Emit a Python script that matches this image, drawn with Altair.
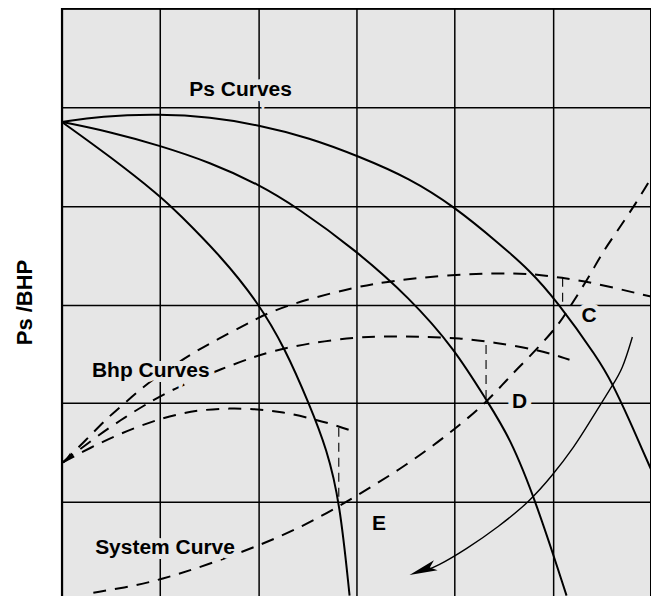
import altair as alt
import pandas as pd

# ---- data (grid units: 6 x 6 grid, y upward) ----
ps_outer_x = [0, 0.39, 1.0, 1.51, 2.0, 2.52, 3.03, 3.54, 4.0, 4.45, 4.76, 5.03, 5.47, 5.6, 5.78, 5.91, 6.0]
ps_outer_y = [4.85, 4.91, 4.93, 4.9, 4.82, 4.69, 4.5, 4.28, 3.99, 3.62, 3.35, 3.05, 2.44, 2.21, 1.83, 1.53, 1.33]

ps_mid_x = [0, 0.49, 1.0, 1.51, 2.0, 2.4, 2.98, 3.54, 4.0, 4.33, 4.56, 4.83, 5.14]
ps_mid_y = [4.85, 4.75, 4.61, 4.44, 4.22, 3.98, 3.56, 3.07, 2.55, 2.02, 1.66, 1.0, 0.05]

ps_inner_x = [0, 0.49, 1.0, 1.18, 1.61, 2.0, 2.27, 2.52, 2.7, 2.83, 2.93]
ps_inner_y = [4.85, 4.5, 4.1, 3.93, 3.5, 3.02, 2.56, 1.99, 1.53, 1.0, 0.05]

bhp_top_x = [0.01, 0.25, 0.45, 0.64, 0.9, 1.35, 1.59, 1.86, 1.99, 2.14, 2.45, 3.0, 3.37, 3.92, 4.53, 4.79, 5.1, 5.37, 6.0]
bhp_top_y = [1.4, 1.63, 1.84, 2.0, 2.23, 2.52, 2.65, 2.79, 2.86, 2.93, 3.04, 3.18, 3.24, 3.3, 3.32, 3.31, 3.27, 3.23, 3.08]

bhp_mid_x = [0.01, 0.35, 0.6, 0.84, 1.16, 1.66, 1.93, 2.15, 2.52, 3.0, 3.37, 3.71, 4.05, 4.38, 4.86, 5.17]
bhp_mid_y = [1.4, 1.66, 1.83, 1.98, 2.16, 2.36, 2.46, 2.53, 2.61, 2.67, 2.68, 2.67, 2.66, 2.62, 2.54, 2.44]

bhp_low_x = [0.01, 0.29, 0.59, 0.9, 1.18, 1.4, 1.71, 2.0, 2.25, 2.52, 2.78, 2.98]
bhp_low_y = [1.4, 1.55, 1.69, 1.81, 1.89, 1.93, 1.95, 1.94, 1.91, 1.85, 1.78, 1.71]

system_x = [0.32, 0.69, 1.0, 1.48, 2.04, 2.45, 2.83, 3.1, 3.44, 3.77, 4.08, 4.32, 4.49, 4.63, 4.86, 5.07, 5.17, 5.37, 5.5, 5.64, 5.85, 6.0]
system_y = [0.08, 0.14, 0.21, 0.36, 0.57, 0.75, 0.96, 1.12, 1.33, 1.56, 1.8, 2.01, 2.19, 2.34, 2.57, 2.81, 2.97, 3.28, 3.52, 3.72, 4.03, 4.28]

arc_x = [5.81, 5.71, 5.6, 5.5, 5.37, 5.22, 4.99, 4.76, 4.45, 4.12, 3.81, 3.69]
arc_y = [2.67, 2.34, 2.17, 2.01, 1.8, 1.56, 1.26, 1.0, 0.75, 0.52, 0.34, 0.3]

drop_x = [5.1, 4.32, 2.82]
drop_y_top = [3.27, 2.59, 1.75]
drop_y_bottom = [2.97, 1.99, 1.0]

big_arrow_x = [3.54]
big_arrow_y = [0.26]
small_arrow_x = [0.01]
small_arrow_y = [1.39]

label_text = ["Ps Curves", "Bhp Curves", "System Curve", "C", "D", "E"]
label_x = [1.82, 0.905, 1.05, 5.37, 4.66, 3.23]
label_y = [5.17, 2.33, 0.53, 2.88, 2.01, 0.78]

y_title = "Ps /BHP"
grid_values = [0, 1, 2, 3, 4, 5, 6]

# ---- tables ----
def curve_rows(name, xs, ys):
    return [dict(curve=name, x=x, y=y, i=i) for i, (x, y) in enumerate(zip(xs, ys))]

ps_df = pd.DataFrame(curve_rows("outer", ps_outer_x, ps_outer_y)
                     + curve_rows("mid", ps_mid_x, ps_mid_y)
                     + curve_rows("inner", ps_inner_x, ps_inner_y))
dash_df = pd.DataFrame(curve_rows("bhp1", bhp_top_x, bhp_top_y)
                       + curve_rows("bhp2", bhp_mid_x, bhp_mid_y)
                       + curve_rows("bhp3", bhp_low_x, bhp_low_y)
                       + curve_rows("system", system_x, system_y))
arc_df = pd.DataFrame(curve_rows("arc", arc_x, arc_y))
drop_df = pd.DataFrame({"x": drop_x, "y": drop_y_top, "y2": drop_y_bottom})
big_df = pd.DataFrame({"x": big_arrow_x, "y": big_arrow_y})
small_df = pd.DataFrame({"x": small_arrow_x, "y": small_arrow_y})
lab_df = pd.DataFrame({"t": label_text, "x": label_x, "y": label_y})

BG = "#e6e6e6"
FONT = "Liberation Sans"

sx = alt.Scale(domain=[0, 6], nice=False, zero=False)
sy = alt.Scale(domain=[0, 6], nice=False, zero=False)
ax_x = alt.Axis(values=grid_values, grid=True, gridColor="black", gridWidth=1.5,
                labels=False, ticks=False, domain=False, title=None)
ax_y = alt.Axis(values=grid_values, grid=True, gridColor="black", gridWidth=1.5,
                labels=False, ticks=False, domain=False, title=y_title,
                titleFont=FONT, titleFontSize=22, titleFontWeight="bold",
                titleColor="black", titleX=-37, titleY=294, titleAngle=270,
                titleAlign="center", titleBaseline="middle")

def X(f="x"):
    return alt.X(f"{f}:Q", scale=sx, axis=ax_x)

def Y(f="y"):
    return alt.Y(f"{f}:Q", scale=sy, axis=ax_y)

ps = alt.Chart(ps_df).mark_line(color="black", strokeWidth=2, clip=True, interpolate="basis").encode(
    x=X(), y=Y(), detail="curve:N", order="x:Q")
dashed = alt.Chart(dash_df).mark_line(color="black", strokeWidth=2, strokeDash=[13, 9], clip=True,
                                      interpolate="basis").encode(
    x=X(), y=Y(), detail="curve:N", order="x:Q")
arc = alt.Chart(arc_df).mark_line(color="black", strokeWidth=1.4, clip=True, interpolate="basis").encode(
    x=X(), y=Y(), order="x:Q")
drops = alt.Chart(drop_df).mark_rule(color="black", strokeWidth=1.1, strokeDash=[9, 6]).encode(
    x=X(), y=Y(), y2="y2:Q")

arrow_path = "M0,0L0.38,2L0,1.55L-0.38,2Z"
big_arrow = alt.Chart(big_df).mark_point(shape=arrow_path, filled=True, color="black",
                                         opacity=1, size=784, angle=250, strokeWidth=0).encode(x=X(), y=Y())
small_arrow = alt.Chart(small_df).mark_point(shape=arrow_path, filled=True, color="black",
                                             opacity=1, size=169, angle=225, strokeWidth=0).encode(x=X(), y=Y())

halo = alt.Chart(lab_df).mark_text(font=FONT, fontSize=21, fontWeight="bold", color=BG,
                                   stroke=BG, strokeWidth=10, align="center", baseline="middle").encode(
    x=X(), y=Y(), text="t:N")
labels = alt.Chart(lab_df).mark_text(font=FONT, fontSize=21, fontWeight="bold", color="black",
                                     align="center", baseline="middle").encode(
    x=X(), y=Y(), text="t:N")

chart = alt.layer(ps, dashed, arc, drops, big_arrow, small_arrow, halo, labels).properties(
    width=590, height=593,
    autosize=alt.AutoSizeParams(type="none"),
    padding={"left": 54, "top": 0, "right": 0, "bottom": 0},
).configure_view(fill=BG, stroke="black", strokeWidth=2)

chart.save("out.html", embed_options={"renderer": "svg", "actions": False})
